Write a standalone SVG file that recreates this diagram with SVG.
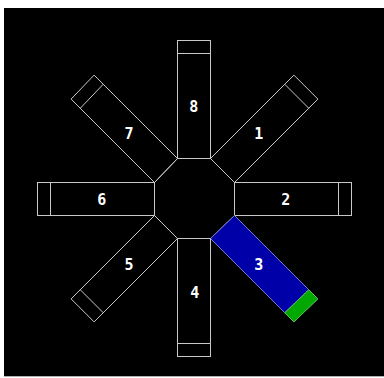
<svg xmlns="http://www.w3.org/2000/svg" width="384" height="378" viewBox="0 0 384 378">
<style>
.arm{fill:none;stroke:#c8c8c8;stroke-width:1}
.lbl{font-family:"DejaVu Sans Mono","Liberation Mono",monospace;font-weight:bold;font-size:15px;fill:#ffffff;text-anchor:middle}
</style>
<rect x="0" y="0" width="384" height="378" fill="#ffffff"/>
<rect x="4" y="8" width="380" height="368" fill="#000000"/>
<line x1="4" y1="376.5" x2="384" y2="376.5" stroke="#b0b0b0" stroke-width="1"/>
<g id="hub">
<polygon class="arm" points="177.5,158.5 210.5,158.5 234.5,182.5 234.5,215.5 210.5,238.5 177.5,238.5 154.5,215.5 154.5,182.5"/>
</g>
<g id="arm8">
<rect class="arm" x="177.5" y="40.5" width="33" height="118"/>
<line class="arm" x1="177.5" y1="53.5" x2="210.5" y2="53.5"/>
<text class="lbl" x="193.7" y="112">8</text>
</g>
<g id="arm1">
<polygon class="arm" points="210.5,158.5 293.9,75.1 317.9,99.1 234.5,182.5"/>
<line class="arm" x1="284.75" y1="84.25" x2="308.75" y2="108.25"/>
<text class="lbl" x="258.7" y="139.4">1</text>
</g>
<g id="arm2">
<rect class="arm" x="234.5" y="182.5" width="117" height="33"/>
<line class="arm" x1="338.5" y1="182.5" x2="338.5" y2="215.5"/>
<text class="lbl" x="285.7" y="204.7">2</text>
</g>
<g id="arm3">
<polygon points="234.5,215.5 308.75,289.75 284.75,312.75 210.5,238.5" fill="#0000a8" stroke="#7878d0" stroke-width="1"/>
<polygon points="308.75,289.75 317.9,298.9 293.9,321.9 284.75,312.75" fill="#00a800" stroke="#60c060" stroke-width="1"/>
<text class="lbl" x="258.7" y="270.4">3</text>
</g>
<g id="arm4">
<rect class="arm" x="177.5" y="238.5" width="33" height="118"/>
<line class="arm" x1="177.5" y1="343.5" x2="210.5" y2="343.5"/>
<text class="lbl" x="194.7" y="297.7">4</text>
</g>
<g id="arm5">
<polygon class="arm" points="177.5,238.5 94.1,321.9 71.1,298.9 154.5,215.5"/>
<line class="arm" x1="103.25" y1="312.75" x2="80.25" y2="289.75"/>
<text class="lbl" x="129" y="269.7">5</text>
</g>
<g id="arm6">
<rect class="arm" x="37.5" y="182.5" width="117" height="33"/>
<line class="arm" x1="50.5" y1="182.5" x2="50.5" y2="215.5"/>
<text class="lbl" x="101.7" y="204.7">6</text>
</g>
<g id="arm7">
<polygon class="arm" points="154.5,182.5 71.1,99.1 94.1,75.1 177.5,158.5"/>
<line class="arm" x1="80.25" y1="108.25" x2="103.25" y2="84.25"/>
<text class="lbl" x="129" y="139.4">7</text>
</g>
<g id="connectors"/>
</svg>
